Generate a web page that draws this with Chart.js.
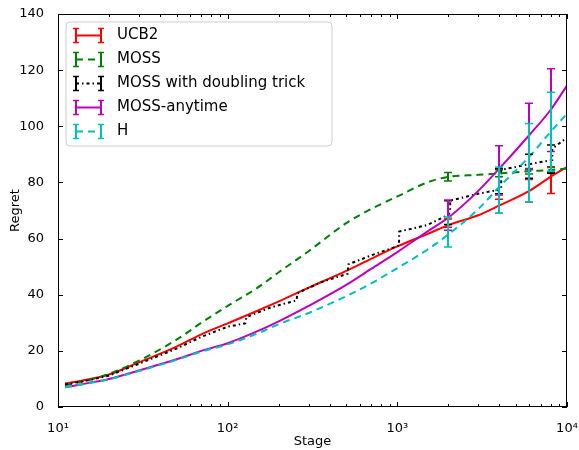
<!DOCTYPE html>
<html>
<head>
<meta charset="utf-8">
<script src="https://cdn.jsdelivr.net/npm/chart.js@4.4.1/dist/chart.umd.min.js"></script>
<style>
html, body { margin: 0; padding: 0; background: #fff; }
</style>
</head>
<body>
<canvas id="c" width="579" height="450"></canvas>
<script>
// values (regret vs stage, log x)
var stages   = [11, 15, 20, 30, 50, 70, 100, 150, 200, 300, 500, 700, 1000, 1500, 2000, 3000, 4000, 6000, 8000, 10000];
var ucb2     = [8.4, 9.8, 11.6, 15.9, 21.5, 25.9, 29.8, 34.3, 37.6, 42.5, 48.5, 52.8, 57.2, 61.6, 64.8, 68.3, 71.8, 77, 82, 85.5];
var moss     = [7.8, 9.5, 11.8, 16.5, 24, 30, 36, 42.5, 48, 55.5, 65.5, 70.5, 75, 80, 82, 82.7, 83.2, 84, 84.4, 85];
var anytime  = [7, 8.5, 10, 13, 17, 20, 22.7, 27, 30.5, 36, 43.5, 49.2, 55.2, 62.5, 67.5, 77, 85, 96.9, 105.8, 114.5];
var hVals    = [7, 8.4, 9.9, 12.8, 16.8, 19.7, 22.3, 26.2, 29.5, 33.5, 39.5, 44, 49.5, 56, 61.5, 70.5, 78.5, 89.2, 98, 104.5];

// the doubling trick restarts at powers of two, so it has its own stages
var dblStages = [11, 15, 20, 30, 50, 70, 100, 127, 129, 180, 255, 257, 350, 510, 514, 700, 1023, 1026, 1500, 2000, 2047, 2050, 3000, 4095, 4098, 6000, 8191, 8194, 10000];
var dblVals   = [8, 9.5, 11.2, 15.4, 20.8, 25, 28.6, 29.8, 32, 35.5, 38, 40.5, 44.3, 47.5, 50.8, 54, 57.5, 62.5, 64.8, 68.5, 69.5, 73.5, 76, 77.5, 84.5, 86.5, 88, 92, 96];

// error bars (low / high) at these stages
var errStages = [2000, 4000, 6000, 8000];
var ucb2Lo = [64, 69, 73, 76.1],      ucb2Hi = [67, 74, 81, 85.6];
var mossLo = [80.5, 82, 83, 83.5],    mossHi = [83.5, 84.5, 85, 85.3];
var dblLo  = [65, 76, 81.5, 83.3],    dblHi  = [73.5, 85, 90, 93.3];
var anyLo  = [63, 75.5, 84.5, 91],    anyHi  = [73.7, 93.1, 108.2, 120.5];
var hLo    = [57, 69, 73.1, 84],      hHi    = [67.7, 85.5, 101, 112.1];

var labels = ["UCB2", "MOSS", "MOSS with doubling trick", "MOSS-anytime", "H"];
var yTicks = [0, 20, 40, 60, 80, 100, 120, 140];

var FONT = "'DejaVu Sans', sans-serif";
var SUP = { 1: "\u00b9", 2: "\u00b2", 3: "\u00b3", 4: "\u2074" };

function pts(xs, ys) {
  return xs.map(function(x, i) { return { x: x, y: ys[i] }; });
}

function mkSet(lbl, xs, ys, color, dash, lo, hi, ord, smooth) {
  return {
    label: lbl,
    data: pts(xs, ys),
    borderColor: color,
    backgroundColor: color,
    borderWidth: 2,
    borderDash: dash,
    pointRadius: 0,
    tension: smooth ? 0.4 : 0,
    cubicInterpolationMode: smooth ? "monotone" : "default",
    fill: false,
    order: ord,
    errLo: lo,
    errHi: hi
  };
}

var sets = [
  mkSet(labels[0], stages, ucb2, "#ff0000", [], ucb2Lo, ucb2Hi, 4, true),
  mkSet(labels[1], stages, moss, "#008000", [7, 5], mossLo, mossHi, 3, true),
  mkSet(labels[2], dblStages, dblVals, "#000000", [3, 3, 1.5, 3], dblLo, dblHi, 2, false),
  mkSet(labels[3], stages, anytime, "#bf00bf", [], anyLo, anyHi, 1, true),
  mkSet(labels[4], stages, hVals, "#00bfbf", [7, 5], hLo, hHi, 0, true)
];

// frame, inward ticks on all four sides, error bars and the legend box
var decor = {
  id: "decor",
  afterDatasetsDraw: function(chart) {
    var ctx = chart.ctx, a = chart.chartArea;
    var xs = chart.scales.x, ys = chart.scales.y;
    ctx.save();
    ctx.beginPath();
    ctx.rect(a.left, a.top, a.right - a.left, a.bottom - a.top);
    ctx.clip();

    chart.data.datasets.forEach(function(ds) {
      ctx.strokeStyle = ds.borderColor;
      ctx.setLineDash([]);
      for (var i = 0; i < errStages.length; i++) {
        var px = Math.round(xs.getPixelForValue(errStages[i]));
        var y0 = ys.getPixelForValue(ds.errLo[i]);
        var y1 = ys.getPixelForValue(ds.errHi[i]);
        ctx.lineWidth = 2;
        ctx.beginPath();
        ctx.moveTo(px, y0); ctx.lineTo(px, y1);
        ctx.stroke();
        ctx.lineWidth = 1.5;
        ctx.beginPath();
        ctx.moveTo(px - 4, y0); ctx.lineTo(px + 4, y0);
        ctx.moveTo(px - 4, y1); ctx.lineTo(px + 4, y1);
        ctx.stroke();
      }
    });
    ctx.restore();

    ctx.save();
    ctx.strokeStyle = "#000";
    ctx.lineWidth = 1;
    ctx.setLineDash([]);
    ctx.strokeRect(a.left + 0.5, a.top + 0.5, a.right - a.left - 1, a.bottom - a.top - 1);
    ctx.beginPath();
    for (var e = 1; e <= 4; e++) {
      for (var m = 1; m <= 9; m++) {
        var v = m * Math.pow(10, e);
        if (v > 10000) break;
        var px = Math.round(xs.getPixelForValue(v)) + 0.5;
        var len = (m === 1) ? 5 : 3;
        ctx.moveTo(px, a.bottom); ctx.lineTo(px, a.bottom - len);
        ctx.moveTo(px, a.top); ctx.lineTo(px, a.top + len);
      }
    }
    yTicks.forEach(function(t) {
      var py = Math.round(ys.getPixelForValue(t)) + 0.5;
      ctx.moveTo(a.left, py); ctx.lineTo(a.left + 5, py);
      ctx.moveTo(a.right, py); ctx.lineTo(a.right - 5, py);
    });
    ctx.stroke();

    // legend, matplotlib style with errorbar handles
    var bx = 66, by = 22, bw = 266, bh = 124, r = 4;
    ctx.fillStyle = "rgba(255,255,255,0.8)";
    ctx.strokeStyle = "#cccccc";
    ctx.beginPath();
    ctx.moveTo(bx + r, by);
    ctx.arcTo(bx + bw, by, bx + bw, by + bh, r);
    ctx.arcTo(bx + bw, by + bh, bx, by + bh, r);
    ctx.arcTo(bx, by + bh, bx, by, r);
    ctx.arcTo(bx, by, bx + bw, by, r);
    ctx.closePath();
    ctx.fill();
    ctx.stroke();

    ctx.font = "15px " + FONT;
    ctx.textBaseline = "middle";
    ctx.textAlign = "left";
    chart.data.datasets.forEach(function(ds, i) {
      var cy = Math.round(35 + i * 23.9) + 0.5;
      ctx.strokeStyle = ds.borderColor;
      ctx.lineWidth = 2;
      ctx.setLineDash(ds.borderDash);
      ctx.beginPath();
      ctx.moveTo(76, cy); ctx.lineTo(101, cy);
      ctx.stroke();
      ctx.setLineDash([]);
      ctx.beginPath();
      ctx.moveTo(76, cy - 7); ctx.lineTo(76, cy + 7);
      ctx.moveTo(101, cy - 7); ctx.lineTo(101, cy + 7);
      ctx.stroke();
      ctx.lineWidth = 1.5;
      ctx.beginPath();
      ctx.moveTo(73, cy - 7); ctx.lineTo(79, cy - 7);
      ctx.moveTo(73, cy + 7); ctx.lineTo(79, cy + 7);
      ctx.moveTo(98, cy - 7); ctx.lineTo(104, cy - 7);
      ctx.moveTo(98, cy + 7); ctx.lineTo(104, cy + 7);
      ctx.stroke();
      ctx.fillStyle = "#000";
      ctx.fillText(ds.label, 117, cy);
    });
    ctx.restore();
  }
};

new Chart(document.getElementById("c"), {
  type: "line",
  data: { datasets: sets },
  options: {
    responsive: false,
    animation: false,
    parsing: true,
    layout: { padding: { top: 14, right: 12, left: 0, bottom: 0 } },
    plugins: { legend: { display: false }, tooltip: { enabled: false } },
    scales: {
      x: {
        type: "logarithmic",
        min: 10, max: 10000,
        grid: { display: false },
        border: { display: false },
        ticks: {
          autoSkip: false, maxRotation: 0, padding: 6, color: "#000",
          font: { family: FONT, size: 13 },
          callback: function(v) {
            var l = Math.log10(v), n = Math.round(l);
            return Math.abs(l - n) < 1e-9 ? "10" + SUP[n] : "";
          }
        },
        title: { display: true, text: "Stage", color: "#000", font: { family: FONT, size: 13 }, padding: { top: 2, bottom: 1 } },
        // labels may hang past the plot edges, don't let them shrink it
        afterFit: function(s) { s.height = 43; s.paddingLeft = 0; s.paddingRight = 0; }
      },
      y: {
        min: 0, max: 140,
        grid: { display: false },
        border: { display: false },
        ticks: { stepSize: 20, padding: 6, color: "#000", font: { family: FONT, size: 13 } },
        title: { display: true, text: "Regret", color: "#000", font: { family: FONT, size: 13 }, padding: { top: 8, bottom: 0 } },
        afterFit: function(s) { s.width = 58; s.paddingTop = 0; s.paddingBottom = 0; }
      }
    }
  },
  plugins: [decor]
});
</script>
</body>
</html>
